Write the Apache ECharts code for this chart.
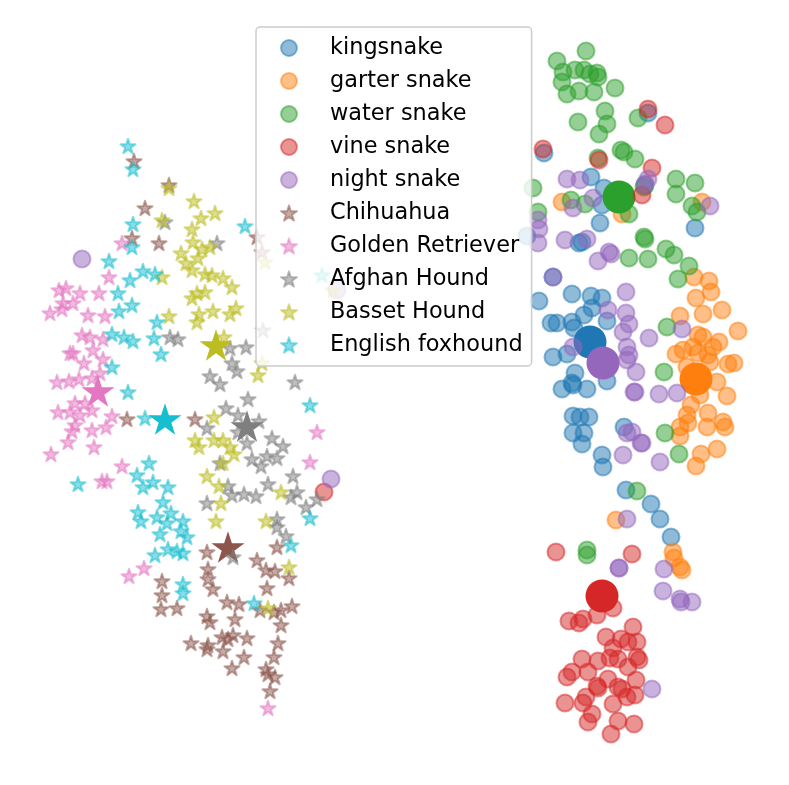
<!DOCTYPE html>
<html lang="en">
<head>
    <meta charset="utf-8" />
    <title>Embedding scatter</title>
    <script type="text/javascript" src="https://cdn.jsdelivr.net/npm/echarts@6/dist/echarts.min.js"></script>
</head>
<body style="margin:0;background-color:#fff">
    <div id="container" style="width:789px;height:785px;"></div>
<script type="text/javascript">
    var names = ['kingsnake', 'garter snake', 'water snake', 'vine snake', 'night snake',
        'Chihuahua', 'Golden Retriever', 'Afghan Hound', 'Basset Hound', 'English foxhound'];
    var colors = ['31,119,180', '255,127,14', '44,160,44', '214,39,40', '148,103,189',
        '140,86,75', '227,119,194', '127,127,127', '188,189,34', '23,190,207'];

    var kingsnake = [[648,113],[544,153],[591,177],[604,188],[602,205],[600,223],[695,228],[527,236],[579,243],[582,242],[645,185],[553,277],[539,301],[572,294],[591,296],[602,298],[592,308],[584,315],[607,321],[551,323],[557,323],[572,322],[574,328],[553,357],[567,354],[575,373],[572,383],[573,385],[562,389],[587,389],[607,381],[573,416],[580,417],[589,417],[573,433],[584,433],[582,444],[602,455],[603,467],[624,427],[626,490],[651,504],[660,519],[671,537]];
    var garterSnake = [[562,202],[702,202],[622,214],[694,277],[709,281],[711,292],[696,298],[722,310],[703,314],[680,316],[738,331],[698,335],[703,337],[719,342],[713,347],[693,347],[683,350],[676,354],[698,353],[708,355],[710,362],[728,364],[734,363],[687,367],[717,382],[700,395],[727,396],[691,405],[687,415],[708,413],[688,423],[680,427],[707,427],[723,422],[725,427],[680,436],[717,449],[701,454],[696,466],[616,520],[673,552],[674,558],[680,567],[682,570]];
    var waterSnake = [[586,51],[557,61],[563,72],[562,82],[575,70],[584,70],[590,74],[597,73],[598,77],[567,94],[579,91],[594,92],[615,88],[605,111],[578,122],[607,124],[599,134],[638,118],[598,158],[621,150],[624,152],[635,159],[533,188],[644,187],[676,179],[695,183],[676,194],[571,200],[585,204],[692,206],[697,212],[538,212],[629,214],[644,237],[645,239],[666,249],[674,255],[629,258],[648,259],[689,266],[678,279],[667,327],[664,372],[665,433],[679,454],[637,491],[587,550],[587,555]];
    var vineSnake = [[648,109],[665,125],[543,149],[599,160],[652,168],[642,195],[324,492],[556,552],[632,554],[613,608],[597,615],[569,621],[579,623],[583,619],[633,627],[606,637],[621,639],[628,642],[637,642],[613,648],[582,659],[598,661],[610,658],[618,659],[628,667],[637,657],[639,660],[572,672],[567,677],[588,672],[608,679],[636,680],[597,686],[598,688],[618,687],[622,689],[627,697],[635,695],[586,697],[583,703],[565,703],[613,704],[592,714],[588,722],[618,721],[634,724],[611,734]];
    var nightSnake = [[567,179],[580,180],[593,198],[573,208],[648,179],[645,184],[710,206],[538,220],[539,229],[538,243],[565,240],[587,239],[609,252],[611,254],[598,261],[553,277],[626,292],[608,310],[626,313],[629,324],[623,332],[649,338],[682,329],[573,347],[627,347],[629,355],[627,360],[636,372],[634,392],[635,392],[659,394],[677,393],[627,433],[632,432],[642,443],[641,443],[623,455],[660,462],[627,519],[619,568],[619,568],[664,569],[663,591],[680,599],[681,602],[692,602],[652,689],[82,259],[331,479],[337,290]];
    var chihuahua = [[134,161],[169,185],[145,208],[132,238],[159,243],[257,237],[262,252],[127,419],[195,419],[207,552],[277,547],[257,560],[208,569],[208,579],[266,570],[275,571],[289,578],[162,581],[162,595],[161,609],[177,608],[213,589],[267,588],[227,602],[239,604],[260,610],[274,612],[281,610],[292,606],[207,616],[210,622],[235,619],[281,625],[191,643],[208,645],[207,649],[222,637],[233,635],[228,639],[247,638],[223,651],[278,643],[244,657],[232,668],[274,657],[266,669],[268,674],[275,677],[270,691]];
    var goldenRetriever = [[122,243],[109,277],[59,290],[66,288],[80,293],[99,293],[63,303],[73,303],[62,309],[50,313],[88,315],[105,316],[82,335],[90,337],[103,339],[93,350],[70,353],[73,353],[103,359],[84,363],[57,382],[69,381],[79,379],[92,378],[100,373],[58,412],[70,412],[75,403],[85,403],[80,415],[92,410],[112,416],[75,425],[72,431],[92,430],[106,427],[68,442],[94,447],[51,454],[122,466],[102,481],[107,481],[129,576],[144,568],[317,432],[310,462],[268,708]];
    var afghanHound = [[165,222],[217,243],[170,337],[178,339],[230,348],[246,347],[232,363],[263,330],[237,371],[210,376],[220,384],[295,382],[248,399],[226,408],[207,428],[238,415],[259,421],[272,438],[283,446],[247,443],[238,432],[252,459],[261,466],[267,456],[277,458],[220,463],[293,476],[268,484],[297,492],[291,497],[306,507],[317,499],[228,486],[232,495],[244,494],[256,496],[207,503],[277,519],[277,527],[286,536],[233,557]];
    var bassetHound = [[169,188],[194,201],[215,213],[201,218],[162,220],[192,229],[193,242],[181,253],[202,249],[210,247],[198,258],[186,263],[192,270],[162,277],[205,274],[212,275],[223,278],[232,287],[205,292],[197,293],[192,298],[236,308],[230,314],[213,311],[199,314],[197,322],[169,316],[224,337],[262,363],[265,262],[333,290],[258,375],[214,417],[195,440],[199,447],[214,440],[223,440],[230,447],[234,454],[223,463],[207,476],[219,486],[221,503],[216,521],[266,521],[281,492],[289,567],[268,608]];
    var englishFoxhound = [[128,146],[133,169],[133,224],[132,247],[109,261],[143,271],[155,274],[130,280],[118,293],[132,305],[119,311],[157,322],[154,338],[161,354],[112,334],[124,337],[133,341],[245,226],[322,275],[112,367],[128,392],[145,418],[78,484],[149,463],[137,475],[143,487],[153,482],[168,487],[163,502],[138,512],[141,521],[157,517],[171,513],[183,521],[167,523],[160,534],[181,531],[187,537],[155,555],[168,549],[177,551],[183,553],[183,584],[183,593],[254,603],[291,545],[310,405],[310,518]];
    var groups = [kingsnake, garterSnake, waterSnake, vineSnake, nightSnake,
        chihuahua, goldenRetriever, afghanHound, bassetHound, englishFoxhound];

    // big marker of each class
    var centers = [[590,342],[696,379],[619,197],[602,596],[603,363],
        [228,547],[98,391],[247,426],[216,345],[165,419]];

    var starPath = 'path://M0,-100L22.45,-30.9L95.11,-30.9L36.33,11.8L58.78,80.9L0,38.2L-58.78,80.9L-36.33,11.8L-95.11,-30.9L-22.45,-30.9Z';

    var dom = document.getElementById("container");
    var myChart = echarts.init(dom);

    var series = [];
    for (var i = 0; i < names.length; i++) {
        var isStar = i >= 5;
        series.push({
            name: names[i],
            type: 'scatter',
            data: groups[i],
            symbol: isStar ? starPath : 'circle',
            symbolKeepAspect: true,
            symbolSize: isStar ? 15 : 17,
            clip: false,
            z: 2,
            itemStyle: {
                color: 'rgba(' + colors[i] + ',0.5)',
                borderColor: 'rgba(' + colors[i] + ',0.5)',
                borderWidth: 2.1,
                borderJoin: 'round',
                opacity: 1
            }
        });
        series.push({
            name: names[i] + ' center',
            type: 'scatter',
            data: [centers[i]],
            symbol: isStar ? starPath : 'circle',
            symbolKeepAspect: true,
            symbolSize: 33,
            clip: false,
            z: 2,
            itemStyle: { color: 'rgb(' + colors[i] + ')', opacity: 1 }
        });
    }

    var option = {
        animation: false,
        backgroundColor: '#fff',
        grid: { left: 0, right: 0, top: 0, bottom: 0 },
        xAxis: { type: 'value', min: 0, max: 789, show: false },
        yAxis: { type: 'value', min: 0, max: 785, inverse: true, show: false },
        legend: {
            data: names,
            orient: 'vertical',
            left: 256,
            top: 27,
            padding: [10, 9, 10, 24],
            itemWidth: 16,
            itemHeight: 16,
            itemGap: 11,
            backgroundColor: 'rgba(255,255,255,0.8)',
            borderColor: '#ccc',
            borderWidth: 1.5,
            borderRadius: 4,
            selectedMode: false,
            textStyle: {
                fontFamily: 'DejaVu Sans',
                fontSize: 22.4,
                color: '#000',
                padding: [0, 0, 0, 28]
            }
        },
        series: series
    };
    myChart.setOption(option, true);
</script>
</body>
</html>
